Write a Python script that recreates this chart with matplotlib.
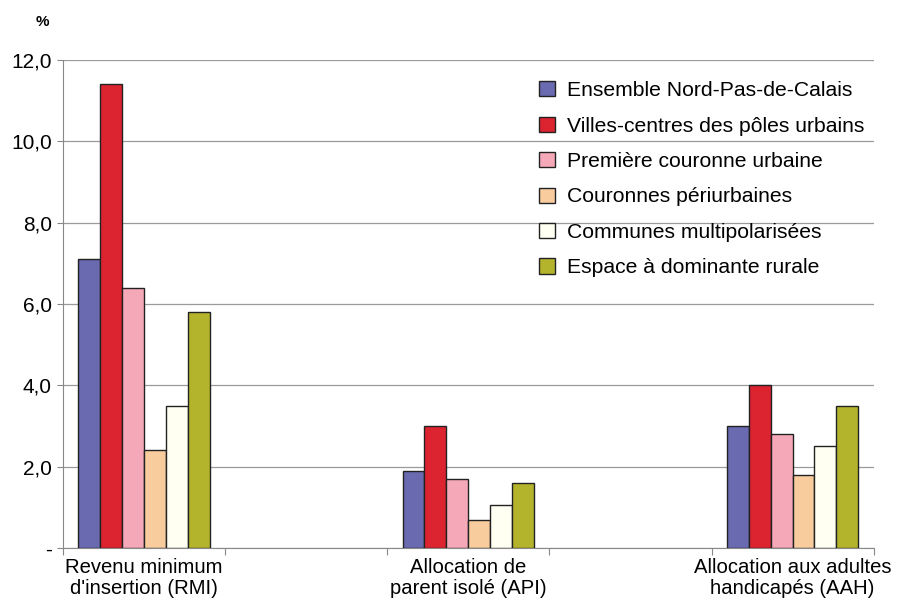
import matplotlib.pyplot as plt
import numpy as np

plt.rcParams['font.family'] = ['Liberation Sans', 'DejaVu Sans']

# five slots on the x axis, the 2nd and 4th are empty
categories = ["Revenu minimum\nd'insertion (RMI)", "",
              "Allocation de\nparent isolé (API)", "",
              "Allocation aux adultes\nhandicapés (AAH)"]
series = ["Ensemble Nord-Pas-de-Calais",
          "Villes-centres des pôles urbains",
          "Première couronne urbaine",
          "Couronnes périurbaines",
          "Communes multipolarisées",
          "Espace à dominante rurale"]
# values per series for RMI, API, AAH
values = {
    "Ensemble Nord-Pas-de-Calais": [7.1, 1.9, 3.0],
    "Villes-centres des pôles urbains": [11.4, 3.0, 4.0],
    "Première couronne urbaine": [6.4, 1.7, 2.8],
    "Couronnes périurbaines": [2.4, 0.7, 1.8],
    "Communes multipolarisées": [3.5, 1.05, 2.5],
    "Espace à dominante rurale": [5.8, 1.6, 3.5],
}
colors = ['#6a6ab0', '#dc2330', '#f5a9b8', '#f9cc9e', '#fffff2', '#b4b42c']
yticks = [0, 2, 4, 6, 8, 10, 12]
ytick_labels = ['-', '2,0', '4,0', '6,0', '8,0', '10,0', '12,0']

fig = plt.figure(figsize=(8.97, 6.05), dpi=100)
ax = fig.add_axes([0.070, 0.094, 0.904, 0.807])

filled = [0, 2, 4]
bar_w = 0.135
n = len(series)
for k, name in enumerate(series):
    x = np.array(filled) + (k - (n - 1) / 2) * bar_w
    ax.bar(x, values[name], width=bar_w, color=colors[k], edgecolor='#222222',
           linewidth=1.0, label=name, zorder=3)

ax.set_xlim(-0.5, 4.5)
ax.set_ylim(0, 12)
ax.set_yticks(yticks)
ax.set_yticklabels(ytick_labels, fontsize=15)
ax.yaxis.grid(True, color='#9a9a9a', linewidth=0.9, zorder=0)

ax.set_xticks(np.arange(-0.5, 5.0, 1.0))
ax.set_xticklabels([])
ax.set_xticks(range(len(categories)), minor=True)
ax.set_xticklabels(categories, minor=True, fontsize=14.6, linespacing=1.15)
ax.tick_params(axis='x', which='minor', length=0, pad=7)
ax.tick_params(axis='x', which='major', length=5, color='#888888')
ax.tick_params(axis='y', length=4, color='#888888', pad=4)

for side in ['top', 'right']:
    ax.spines[side].set_visible(False)
for side in ['left', 'bottom']:
    ax.spines[side].set_color('#888888')

fig.text(0.047, 0.963, '%', fontsize=11, fontweight='bold', ha='center', va='center')

ax.legend(loc='upper left', bbox_to_anchor=(0.592, 0.880), bbox_transform=fig.transFigure,
          frameon=False, fontsize=15.2, handlelength=0.72, handleheight=0.72,
          handletextpad=0.6, labelspacing=0.78, borderaxespad=0)

fig.savefig('out.png', dpi=100)
